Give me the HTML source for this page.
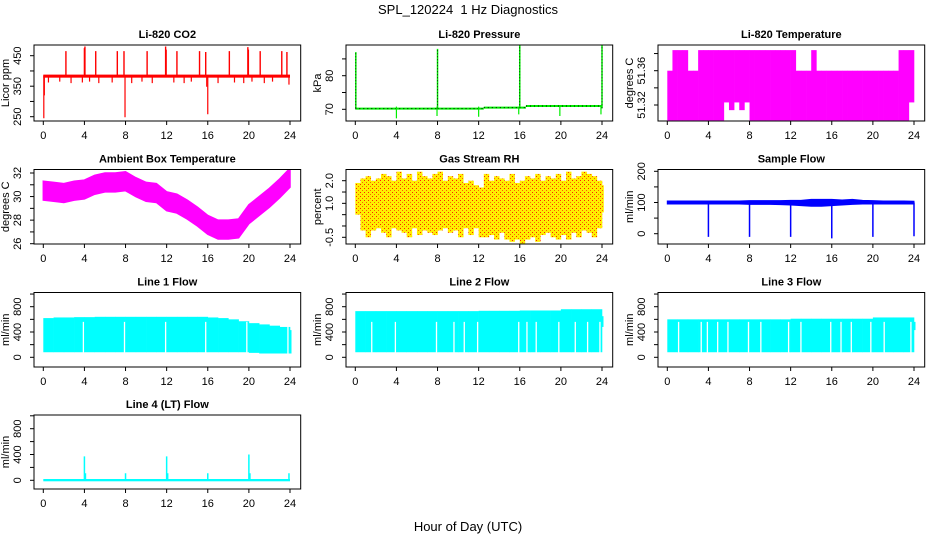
<!DOCTYPE html>
<html><head><meta charset="utf-8"><style>
html,body{margin:0;padding:0;background:#fff;}
svg{display:block;font-family:"Liberation Sans",sans-serif;}
</style></head><body>
<svg id="chart" width="936" height="540" viewBox="0 0 936 540">
<defs>
<pattern id="rhpat" width="4" height="4" patternUnits="userSpaceOnUse">
<rect width="4" height="4" fill="#ffee00"/><rect x="0" y="0" width="1" height="1" fill="#ff2000"/><rect x="2" y="2" width="1" height="1" fill="#ff6000"/>
</pattern>
</defs>
<text x="468" y="14" text-anchor="middle" font-size="13" xml:space="preserve">SPL_120224  1 Hz Diagnostics</text>
<text x="468" y="531" text-anchor="middle" font-size="13">Hour of Day (UTC)</text>
</svg>
<script>
// ---- data ----
const xTicks = [0,4,8,12,16,20,24];
const co2Base = [378, 388];
const co2SpikeHours = [2.2,4.0,4.05,5.1,7.2,7.85,10.1,11.9,11.95,13.0,15.2,15.8,18.1,19.9,19.95,21.1,23.2,23.7];
const co2SpikeVals = [465,475,480,465,465,465,465,480,470,465,465,462,465,478,470,465,465,462];
const co2DipHours = [0.05,0.1,7.95,16.0,15.9,0.5,1.6,2.7,3.8,4.5,5.4,6.7,8.6,9.6,10.6,12.7,13.7,14.4,17.0,18.6,19.5,20.3,21.5,22.3,23.9];
const co2DipVals = [245,320,248,258,348,362,365,360,362,365,360,362,360,365,360,362,360,365,360,362,360,365,360,365,355];
const pressSegHours = [0,8,12.5,16.6,24];
const pressSegVals = [70.2,70.2,70.5,71.0];
const pressSpikeHours = [0.05,8.0,16.0,24.0];
const pressSpikeVals = [87,88,89,90];
const pressDipHours = [4,7.95,12,15.9,19.9,23.9];
const pressDipVals = [67.3,68,67.8,68.5,68,68.5];
const tempHi = [51.36,51.384,51.384,51.384,51.36,51.36,51.384,51.384,51.384,51.384,51.384,51.384,51.384,51.384,51.384,51.384,51.384,51.384,51.384,51.384,51.384,51.384,51.384,51.384,51.384,51.36,51.36,51.36,51.384,51.36,51.36,51.36,51.36,51.36,51.36,51.36,51.36,51.36,51.36,51.36,51.36,51.36,51.36,51.36,51.36,51.384,51.384,51.384];
const tempLo = [51.302,51.302,51.302,51.302,51.302,51.302,51.302,51.302,51.302,51.302,51.302,51.323,51.314,51.323,51.314,51.323,51.302,51.302,51.302,51.302,51.302,51.302,51.302,51.302,51.302,51.302,51.302,51.302,51.302,51.302,51.302,51.302,51.302,51.302,51.302,51.302,51.302,51.302,51.302,51.302,51.302,51.302,51.302,51.302,51.302,51.302,51.302,51.323];
const ambMid = [30.5,30.4,30.3,30.5,30.6,31.0,31.2,31.2,31.3,30.8,30.4,30.3,29.6,29.4,28.9,28.3,27.6,27.2,27.2,27.3,28.5,29.2,29.9,30.7,31.6];
const ambSpread = 1.6;
const rhHi = [1.9,2.1,2.2,2.0,2.1,2.3,2.2,2.0,2.4,2.1,2.3,2.0,2.4,2.2,2.1,2.3,2.4,2.0,2.2,2.1,2.3,1.9,2.0,1.8,1.7,2.3,2.0,2.2,2.1,2.0,2.3,1.9,2.0,2.2,2.1,2.3,2.0,2.2,2.1,2.3,2.0,2.4,2.1,2.2,2.4,2.3,2.2,2.0,1.8];
const rhLo = [0.5,-0.2,-0.5,-0.2,-0.1,-0.3,-0.5,-0.1,-0.2,-0.3,-0.5,-0.1,-0.4,-0.2,-0.3,-0.4,-0.2,-0.1,-0.3,-0.2,-0.5,-0.1,-0.4,-0.1,-0.5,-0.5,-0.4,-0.6,-0.3,-0.6,-0.7,-0.6,-0.8,-0.6,-0.5,-0.7,-0.4,-0.3,-0.5,-0.6,-0.4,-0.6,-0.3,-0.5,-0.2,-0.3,-0.5,-0.1,0.6];
const sampHi = [105,105,105,105,105,105,105,105,106,106,106,106,107,107,110,110,110,108,110,107,106,105,105,105,104];
const sampLo = [95,95,95,95,95,95,95,95,94,94,94,93,92,90,88,88,90,92,94,95,95,95,95,95,95];
const sampDipHours = [4,8,12,16,20,24];
const sampDipVals = [-10,-10,-10,-15,-10,-8];
const line1Hi = [620,630,630,635,635,640,640,640,640,640,640,640,640,640,640,640,630,620,600,570,540,520,500,480,430];
const line1Lo = [80,80,80,80,80,80,80,80,80,80,80,80,80,80,80,80,80,80,80,80,70,60,60,60,60];
const line1Gaps = [3.9,7.9,11.9,15.8,19.8,23.8];
const line2Hi = [730,730,730,730,730,730,730,730,730,730,730,730,735,735,735,735,740,740,740,740,760,760,760,760,650];
const line2Lo = [80,80,80,80,80,80,80,80,80,80,80,80,80,80,80,80,80,80,80,80,80,80,80,80,480];
const line2Gaps = [1.6,3.9,7.9,9.6,10.6,11.9,15.9,16.7,17.6,19.8,21.4,22.6,23.8];
const line3Hi = [600,600,600,600,600,600,600,600,600,600,600,600,610,610,610,610,610,610,610,610,630,630,630,630,560];
const line3Lo = [80,80,80,80,80,80,80,80,80,80,80,80,80,80,80,80,80,80,80,80,80,80,80,80,430];
const line3Gaps = [1.1,3.3,3.9,4.9,5.9,7.9,9.1,11.8,13.0,15.9,16.9,17.9,19.8,21.1,23.7];
const line4Base = [0, 20];
const line4SpikeHours = [4,4.1,8,12,12.1,16,20,20.1,23.9];
const line4SpikeVals = [370,110,110,370,110,110,400,110,110];

// ---- layout ----
const NS = "http://www.w3.org/2000/svg";
const svg = document.getElementById("chart");
const colLeft = [34,346,658], colRight = [300.7,612.7,924.7], colX0 = [43.3,355.3,667.3];
const rowTop = [45,169.5,292.5,415], rowBot = [121,244,367,489];
function mk(tag, attrs, parent){ const e=document.createElementNS(NS,tag); for(const k in attrs) e.setAttribute(k,attrs[k]); (parent||svg).appendChild(e); return e; }

function panel(cfg){
  const L=colLeft[cfg.c], R=colRight[cfg.c], T=rowTop[cfg.r], B=rowBot[cfg.r];
  const g = mk("g",{});
  
  
  const X = h => colX0[cfg.c] + h*246.7/24;
  const [v0,p0,v1,p1] = cfg.ys;
  const Y = v => p0 + (v-v0)*(p1-p0)/(v1-v0);
  const cid = "clip"+cfg.name;
  const cp = mk("clipPath",{id:cid},g); mk("rect",{x:L,y:T,width:R-L,height:B-T},cp);
  const plot = mk("g",{"clip-path":"url(#"+cid+")"},g);
  
  
  cfg.draw(plot,X,Y);
  const box = mk("rect",{x:L,y:T,width:R-L,height:B-T,fill:"none",stroke:"#000","stroke-width":1},g);
  
  
  const t = mk("text",{x:(L+R)/2,y:T-7,"text-anchor":"middle","font-size":11,"font-weight":"bold"},g);
  t.textContent = cfg.title;
  
  
  xTicks.forEach(h=>{
    mk("line",{x1:X(h),x2:X(h),y1:B,y2:B+4,stroke:"#000"},g);
    const tx = mk("text",{x:X(h),y:B+18,"text-anchor":"middle","font-size":11},g);
    tx.textContent = h;
    
    
  });
  cfg.yticks.forEach(v=>{ mk("line",{x1:L-4,x2:L,y1:Y(v),y2:Y(v),stroke:"#000"},g); });
  cfg.ylabels.forEach(v=>{
    const y=Y(v);
    const ty = mk("text",{x:L-13,y:y,"text-anchor":"middle","font-size":11,transform:`rotate(-90 ${L-13} ${y})`},g);
    ty.textContent = cfg.fmt ? cfg.fmt(v) : v;
    
    
  });
  const ym=(T+B)/2;
  const yt = mk("text",{x:L-25,y:ym,"text-anchor":"middle","font-size":11,transform:`rotate(-90 ${L-25} ${ym})`},g);
  yt.textContent = cfg.ylab;
  
  
}
function vline(p,x,y1,y2,col,w){ return mk("line",{x1:x,x2:x,y1:y1,y2:y2,stroke:col,"stroke-width":w||1.2},p); }
function bandBins(p,X,Y,hi,lo,fill,step){
  for(let i=0;i<hi.length;i++){
    const h=i*step, w=X(Math.min(24,h+step))-X(h);
    const yh=Y(hi[i]), yl=Y(lo[i]);
    mk("rect",{x:X(h),y:Math.min(yh,yl),width:Math.max(w,1.5)+0.3,height:Math.abs(yl-yh),fill:fill},p);
  }
}
function flowPanel(hi,lo,gaps){
  return (p,X,Y)=>{
    for(let i=0;i<24;i++){
      mk("rect",{x:X(i),y:Y(hi[i]),width:X(i+1)-X(i)+0.3,height:Y(lo[i])-Y(hi[i]),fill:"#00ffff"},p);
    }
    mk("rect",{x:X(24)-0.5,y:Y(hi[24]),width:2,height:Y(lo[24])-Y(hi[24]),fill:"#00ffff"},p);
    gaps.forEach(h=>vline(p,X(h),Y(0),Y(560),"#fff",1.3));
  };
}

panel({name:"co2-panel",c:0,r:0,title:"Li-820 CO2",ylab:"Licor ppm",ys:[450,55.7,250,116.7],yticks:[250,300,350,400,450],ylabels:[250,350,450],
 draw:(p,X,Y)=>{
  mk("rect",{x:X(0),y:Y(co2Base[1]),width:X(24)-X(0),height:Y(co2Base[0])-Y(co2Base[1]),fill:"#ff0000"},p);
  co2SpikeHours.forEach((h,i)=>vline(p,X(h),Y(385),Y(co2SpikeVals[i]),"#ff0000",1.4));
  co2DipHours.forEach((h,i)=>vline(p,X(h),Y(385),Y(co2DipVals[i]),"#ff0000",1.2));
 }});
panel({name:"pressure-panel",c:1,r:0,title:"Li-820 Pressure",ylab:"kPa",ys:[70,109.3,80,75.7],yticks:[70,75,80,85],ylabels:[70,80],
 draw:(p,X,Y)=>{
  for(let i=0;i<pressSegVals.length;i++){
    mk("line",{x1:X(pressSegHours[i]),x2:X(pressSegHours[i+1]),y1:Y(pressSegVals[i]),y2:Y(pressSegVals[i]),stroke:"#00ee00","stroke-width":2},p);
    mk("line",{x1:X(pressSegHours[i]),x2:X(pressSegHours[i+1]),y1:Y(pressSegVals[i]),y2:Y(pressSegVals[i]),stroke:"#000","stroke-width":1,"stroke-dasharray":"1,3"},p);
  }
  pressSpikeHours.forEach((h,i)=>{vline(p,X(h),Y(70.3),Y(pressSpikeVals[i]),"#00ee00",1.5);mk("line",{x1:X(h),x2:X(h),y1:Y(70.3),y2:Y(pressSpikeVals[i]),stroke:"#000","stroke-dasharray":"1,2","stroke-width":0.8},p);});
  pressDipHours.forEach((h,i)=>vline(p,X(h),Y(70.8),Y(pressDipVals[i]),"#00ee00",1.2));
 }});
panel({name:"li820-temperature-panel",c:2,r:0,title:"Li-820 Temperature",ylab:"degrees C",ys:[51.36,70.7,51.32,105],yticks:[51.32,51.34,51.36,51.38],ylabels:[51.32,51.36],fmt:v=>v.toFixed(2),
 draw:(p,X,Y)=>bandBins(p,X,Y,tempHi,tempLo,"#ff00ff",0.5)});
panel({name:"ambient-temperature-panel",c:0,r:1,title:"Ambient Box Temperature",ylab:"degrees C",ys:[32,173,26,243.7],yticks:[26,27,28,29,30,31,32],ylabels:[26,28,30,32],
 draw:(p,X,Y)=>{
  const top=ambMid.map((v,i)=>[X(i),Y(v+ambSpread/2)]), bot=ambMid.map((v,i)=>[X(i),Y(v-ambSpread/2)]).reverse();
  mk("polygon",{points:top.concat(bot).map(q=>q.join(",")).join(" "),fill:"#ff00ff",stroke:"#ff00ff","stroke-width":1.5},p);
 }});
panel({name:"gas-stream-rh-panel",c:1,r:1,title:"Gas Stream RH",ylab:"percent",ys:[2.0,180.7,-0.5,237.3],yticks:[-0.5,0,0.5,1,1.5,2],ylabels:[-0.5,1.0,2.0],fmt:v=>v.toFixed(1),
 draw:(p,X,Y)=>bandBins(p,X,Y,rhHi,rhLo,"url(#rhpat)",0.5)});
panel({name:"sample-flow-panel",c:2,r:1,title:"Sample Flow",ylab:"ml/min",ys:[200,171.3,0,233.7],yticks:[0,50,100,150,200],ylabels:[0,100,200],
 draw:(p,X,Y)=>{
  const top=sampHi.map((v,i)=>[X(i),Y(v)]), bot=sampLo.map((v,i)=>[X(i),Y(v)]).reverse();
  mk("polygon",{points:top.concat(bot).map(q=>q.join(",")).join(" "),fill:"#0000ff",stroke:"#0000ff","stroke-width":1},p);
  sampDipHours.forEach((h,i)=>vline(p,X(h),Y(100),Y(sampDipVals[i]),"#0000ff",1.5));
 }});
const flowTicks=[0,200,400,600,800,1000], flowLabels=[0,400,800];
panel({name:"line1-flow-panel",c:0,r:2,title:"Line 1 Flow",ylab:"ml/min",ys:[0,357.3,800,306.7],yticks:flowTicks,ylabels:flowLabels,draw:flowPanel(line1Hi,line1Lo,line1Gaps)});
panel({name:"line2-flow-panel",c:1,r:2,title:"Line 2 Flow",ylab:"ml/min",ys:[0,357.3,800,306.7],yticks:flowTicks,ylabels:flowLabels,draw:flowPanel(line2Hi,line2Lo,line2Gaps)});
panel({name:"line3-flow-panel",c:2,r:2,title:"Line 3 Flow",ylab:"ml/min",ys:[0,357.3,800,306.7],yticks:flowTicks,ylabels:flowLabels,draw:flowPanel(line3Hi,line3Lo,line3Gaps)});
panel({name:"line4-flow-panel",c:0,r:3,title:"Line 4 (LT) Flow",ylab:"ml/min",ys:[0,480.3,800,428.7],yticks:flowTicks,ylabels:flowLabels,
 draw:(p,X,Y)=>{
  mk("rect",{x:X(0),y:Y(line4Base[1]),width:X(24)-X(0),height:Y(line4Base[0])-Y(line4Base[1])+1,fill:"#00ffff"},p);
  line4SpikeHours.forEach((h,i)=>vline(p,X(h),Y(0),Y(line4SpikeVals[i]),"#00ffff",1.5));
 }});
</script>
</body></html>
